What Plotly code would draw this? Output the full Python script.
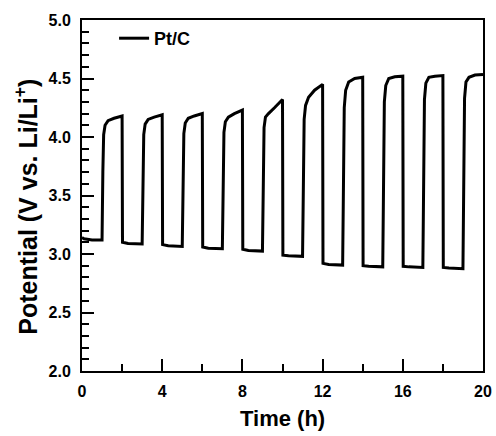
import plotly.graph_objects as go

# Time (h) and potential (V vs. Li/Li+), cycle by cycle
time_h = [
    0.0, 0.1, 0.5, 1.0,
    1.04, 1.08, 1.15, 1.3, 1.6, 2.0,
    2.02, 2.3, 3.0,
    3.04, 3.08, 3.15, 3.3, 3.6, 4.0,
    4.02, 4.3, 5.0,
    5.04, 5.08, 5.15, 5.3, 5.6, 6.0,
    6.02, 6.3, 7.0,
    7.04, 7.08, 7.15, 7.3, 7.6, 8.0,
    8.02, 8.3, 9.0,
    9.04, 9.08, 9.15, 9.3, 9.6, 10.0,
    10.02, 10.3, 11.0,
    11.04, 11.08, 11.15, 11.3, 11.6, 12.0,
    12.02, 12.3, 13.0,
    13.04, 13.08, 13.15, 13.3, 13.6, 14.0,
    14.02, 14.3, 15.0,
    15.04, 15.08, 15.15, 15.3, 15.6, 16.0,
    16.02, 16.3, 17.0,
    17.04, 17.08, 17.15, 17.3, 17.6, 18.0,
    18.02, 18.3, 19.0,
    19.04, 19.08, 19.15, 19.3, 19.6, 20.0,
]
potential_v = [
    3.14, 3.13, 3.12, 3.12,
    3.70, 4.02, 4.10, 4.14, 4.16, 4.18,
    3.10, 3.09, 3.085,
    3.70, 4.02, 4.11, 4.15, 4.17, 4.19,
    3.08, 3.07, 3.065,
    3.70, 4.03, 4.12, 4.16, 4.18, 4.20,
    3.06, 3.05, 3.045,
    3.70, 4.04, 4.13, 4.17, 4.20, 4.23,
    3.04, 3.03, 3.025,
    3.70, 4.08, 4.17, 4.20, 4.25, 4.32,
    2.99, 2.985, 2.98,
    3.70, 4.15, 4.27, 4.34, 4.40, 4.45,
    2.92, 2.91, 2.905,
    3.70, 4.25, 4.40, 4.47, 4.50, 4.51,
    2.90, 2.895, 2.89,
    3.70, 4.30, 4.44, 4.50, 4.515, 4.52,
    2.895, 2.89, 2.885,
    3.70, 4.32, 4.46, 4.51, 4.52, 4.525,
    2.885, 2.88, 2.875,
    3.70, 4.33, 4.47, 4.51, 4.53, 4.535,
]
series_name = "Pt/C"
x_ticks = [0, 4, 8, 12, 16, 20]
y_ticks = [2.0, 2.5, 3.0, 3.5, 4.0, 4.5, 5.0]
x_title = "Time (h)"
y_title = "Potential (V vs. Li/Li<sup>+</sup>)"

FONT = "Arial, Liberation Sans, sans-serif"

fig = go.Figure()
fig.add_trace(go.Scatter(
    x=time_h, y=potential_v, mode="lines", name=series_name,
    line=dict(color="black", width=3),
))

axis_common = dict(
    automargin=False,
    ticklabeloverflow="allow",
    showgrid=False, zeroline=False,
    showline=True, linecolor="black", linewidth=2, mirror=True,
    ticks="inside", tickcolor="black", tickwidth=2, ticklen=12,
    tickfont=dict(family=FONT, size=16, color="black", weight="bold"),
)

fig.update_xaxes(
    range=[0, 20], tickvals=x_ticks, ticktext=[str(v) for v in x_ticks],
    minor=dict(dtick=2, ticks="inside", ticklen=7, tickwidth=2, tickcolor="black"),
    ticklabelstandoff=5,
    **axis_common,
)
fig.update_yaxes(
    range=[2.0, 5.0], tickvals=y_ticks, ticktext=[f"{v:.1f}" for v in y_ticks],
    minor=dict(dtick=0.1, ticks="inside", ticklen=7, tickwidth=2, tickcolor="black"),
    ticklabelstandoff=6,
    **axis_common,
)

# axis titles as annotations, placed as in the reference
fig.add_annotation(
    text=x_title, showarrow=False,
    xref="paper", yref="paper", x=0.5, y=0,
    xanchor="center", yanchor="middle", yshift=-47,
    font=dict(family=FONT, size=22, color="black", weight="bold"),
)
fig.add_annotation(
    text=y_title, textangle=-90, showarrow=False,
    xref="paper", yref="paper", x=0, y=0.468,
    xanchor="center", yanchor="middle", xshift=-56,
    font=dict(family=FONT, size=25, color="black", weight="bold"),
)

fig.update_layout(
    width=496, height=436,
    margin=dict(l=82, r=13, t=20, b=65),
    paper_bgcolor="white", plot_bgcolor="white",
    showlegend=True,
    legend=dict(
        x=0.08, y=1.0, xanchor="left", yanchor="top",
        bgcolor="rgba(0,0,0,0)", borderwidth=0,
        font=dict(family=FONT, size=18, color="black", weight="bold"),
    ),
)

fig.write_html(
    "out.html",
    config={"displayModeBar": False},
    post_script="document.body.style.margin='0';document.body.style.overflow='hidden';",
)
